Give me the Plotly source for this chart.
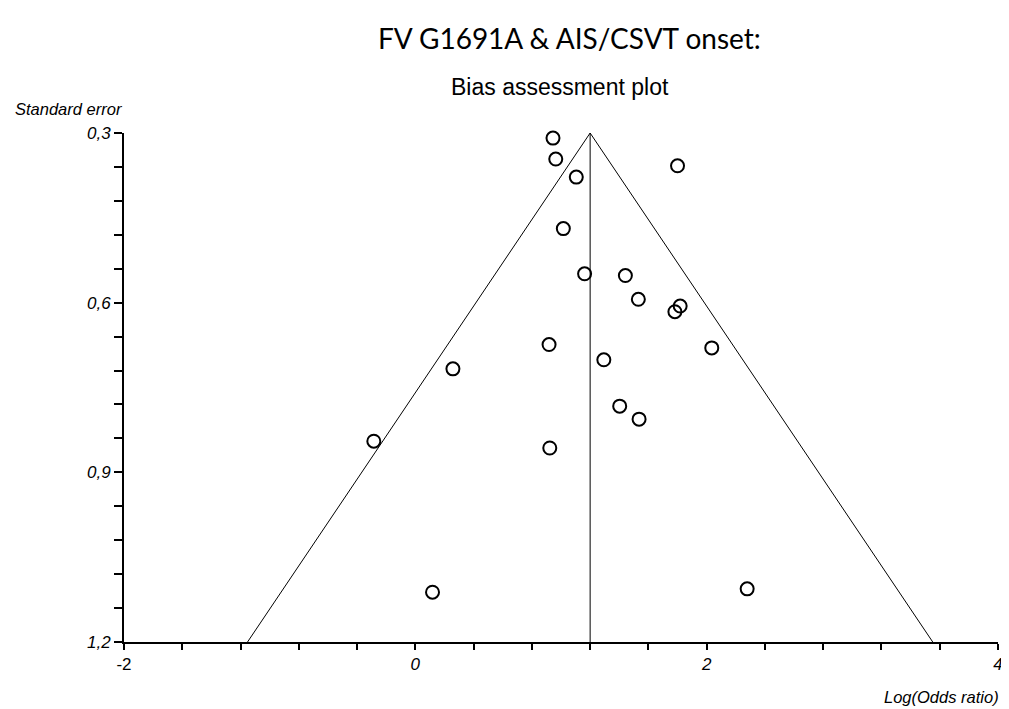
import plotly.graph_objects as go

# Data
log_or = [0.945, 0.964, 1.105, 1.800, 1.016, 1.162, 1.442, 1.531, 1.818, 1.782,
          2.035, 1.294, 0.918, 0.258, 1.403, 1.536, -0.285, 0.923, 0.118, 2.278]
std_err = [0.309, 0.346, 0.378, 0.358, 0.469, 0.549, 0.552, 0.594, 0.606, 0.616,
           0.680, 0.701, 0.674, 0.717, 0.783, 0.806, 0.845, 0.857, 1.112, 1.106]
pooled = 1.2
se_top = 0.3
se_bottom = 1.2
z = 1.96

x_ticks = [-2, 0, 2, 4]
x_ticktext = ["-2", "<i>0</i>", "<i>2</i>", "<i>4</i>"]
y_ticks = [0.3, 0.6, 0.9, 1.2]
y_ticktext = ["<i>0,3</i>", "<i>0,6</i>", "<i>0,9</i>", "<i>1,2</i>"]

# the page has an 8px body margin; figure is sized to fit inside the window
W, H = 1001, 701
L, T, R, B = 116, 125, 6, 67
PW, PH = W - L - R, H - T - B


def px(xw):
    return (xw - 8 - L) / PW


def py(yw):
    return 1 - (yw - 8 - T) / PH


fig = go.Figure()

# funnel (triangle) lines
fig.add_trace(go.Scatter(
    x=[pooled - z * se_bottom, pooled, pooled + z * se_bottom],
    y=[se_bottom, se_top, se_bottom],
    mode="lines", line=dict(color="black", width=1), hoverinfo="skip", showlegend=False))
# pooled vertical line
fig.add_trace(go.Scatter(
    x=[pooled, pooled], y=[se_top, se_bottom],
    mode="lines", line=dict(color="black", width=1), hoverinfo="skip", showlegend=False))
# studies
fig.add_trace(go.Scatter(
    x=log_or, y=std_err, mode="markers",
    marker=dict(symbol="circle-open", size=13, color="black", line=dict(width=2, color="black")),
    showlegend=False, cliponaxis=False))

axis_font = dict(family="Liberation Sans, Arial", size=17, color="black")

fig.update_layout(
    width=W, height=H,
    margin=dict(l=L, r=R, t=T, b=B),
    paper_bgcolor="white", plot_bgcolor="white",
    showlegend=False,
    xaxis=dict(range=[-2, 4], showgrid=False, zeroline=False,
               showline=True, linecolor="black", linewidth=2,
               ticks="outside", ticklen=6, tickwidth=2, tickcolor="black",
               tickvals=x_ticks, ticktext=x_ticktext, tickfont=axis_font,
               minor=dict(dtick=0.4, tick0=-2, ticks="outside", ticklen=6, tickwidth=2, tickcolor="black", showgrid=False),
               fixedrange=True),
    yaxis=dict(range=[se_bottom, se_top], showgrid=False, zeroline=False,
               showline=True, linecolor="black", linewidth=2,
               ticks="outside", ticklen=8, tickwidth=2, tickcolor="black",
               tickvals=y_ticks, ticktext=y_ticktext, tickfont=axis_font,
               minor=dict(dtick=0.06, tick0=0.3, ticks="outside", ticklen=8, tickwidth=2, tickcolor="black", showgrid=False),
               fixedrange=True),
    annotations=[
        dict(text="FV G1691A &amp; AIS/CSVT onset:", xref="paper", yref="paper",
             x=px(572), y=py(38), xanchor="center", yanchor="middle",
             showarrow=False, font=dict(family="Lato, Carlito, Calibri", size=28, color="black")),
        dict(text="Bias assessment plot", xref="paper", yref="paper",
             x=px(562), y=py(87), xanchor="center", yanchor="middle",
             showarrow=False, font=dict(family="Liberation Sans, Arial", size=23, color="black")),
        dict(text="<i>Standard error</i>", xref="paper", yref="paper",
             x=px(12), y=py(109), xanchor="left", yanchor="middle",
             showarrow=False, font=dict(family="Liberation Sans, Arial", size=16.5, color="black")),
        dict(text="<i>Log(Odds ratio)</i>", xref="paper", yref="paper",
             x=px(1006), y=py(697), xanchor="right", yanchor="middle",
             showarrow=False, font=dict(family="Liberation Sans, Arial", size=16.5, color="black")),
    ],
)

fig.write_html("out.html")
